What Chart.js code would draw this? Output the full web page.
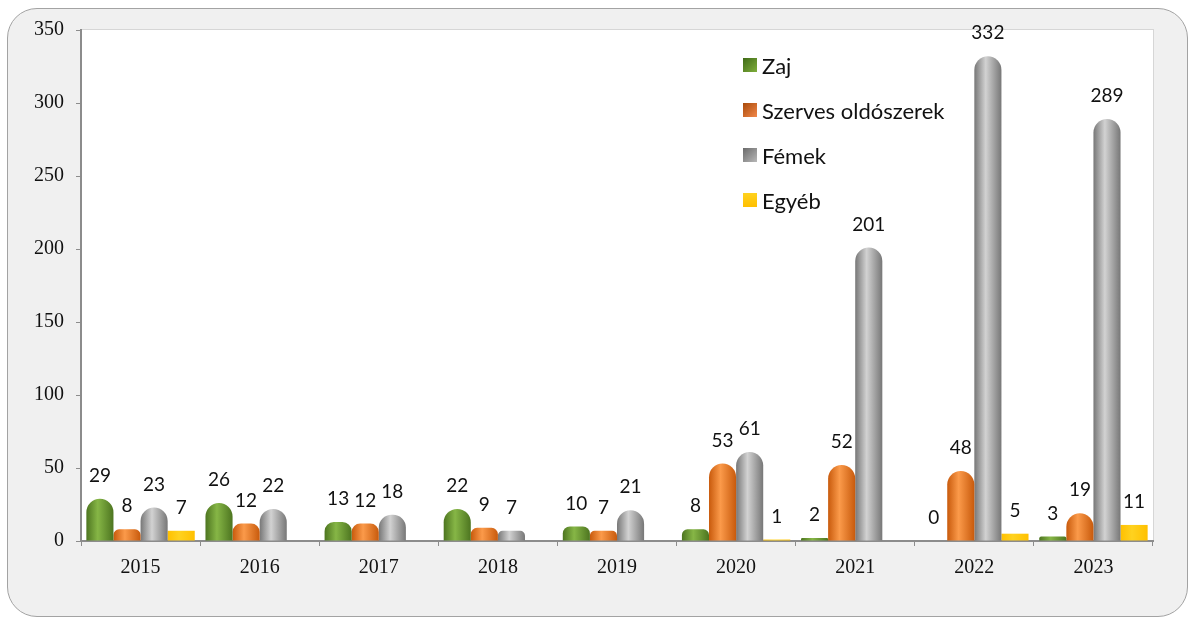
<!DOCTYPE html>
<html>
<head>
<meta charset="utf-8">
<script src="https://cdn.jsdelivr.net/npm/chart.js@4/dist/chart.umd.min.js"></script>
<style>
    body { margin: 0; background: #ffffff; }
    #panel {
        position: absolute; left: 7px; top: 8px; width: 1179px; height: 607px;
        background: #f0f0f0; border: 1px solid #a3a3a3; border-radius: 30px;
    }
    #wrap { position: absolute; left: 0; top: 0; width: 1192px; height: 618px; }
    #legend { position: absolute; left: 743px; top: 52px; font-family: Lato, "Noto Sans", sans-serif; font-size: 22px; color: #111; }
    .row { display: flex; align-items: center; height: 26px; margin-bottom: 19px; }
    .box { width: 14px; height: 14px; margin-right: 5px; }
</style>
</head>
<body>
<div id="panel"></div>
<div id="wrap">
    <canvas id="chart" width="1192" height="618"></canvas>
    <div id="legend"></div>
</div>
<script>
// values
const years = ['2015', '2016', '2017', '2018', '2019', '2020', '2021', '2022', '2023'];
const zaj = [29, 26, 13, 22, 10, 8, 2, 0, 3];
const szerves = [8, 12, 12, 9, 7, 53, 52, 48, 19];
const femek = [23, 22, 18, 7, 21, 61, 201, 332, 289];
const egyeb = [7, null, null, null, null, 1, null, 5, 11];
const seriesNames = ['Zaj', 'Szerves oldószerek', 'Fémek', 'Egyéb'];

// edge / highlight colours for the cylinder look
var edgeColors = ['#4d7520', '#c85a0c', '#777777', '#ffc000'];
var midColors = ['#86b646', '#fb9a4a', '#d2d2d2', '#ffd21f'];
var legendCss = [
    'linear-gradient(135deg, #3f6a17, #7fae3b)',
    'linear-gradient(135deg, #a84a0a, #f2884a)',
    'linear-gradient(135deg, #6a6a6a, #b8b8b8)',
    'linear-gradient(180deg, #ffd21f, #ffbf00)'
];

// white plot area with a thin border
const plotBg = {
    id: 'plotBg',
    beforeDraw(chart) {
        const { ctx, chartArea: a } = chart;
        ctx.save();
        ctx.fillStyle = '#ffffff';
        ctx.fillRect(a.left, a.top, a.right - a.left, a.bottom - a.top);
        ctx.strokeStyle = '#d6d6d6';
        ctx.lineWidth = 1;
        ctx.strokeRect(a.left + 0.5, a.top - 0.5, a.right - a.left, a.bottom - a.top);
        ctx.restore();
    }
};

// horizontal gradient on every bar so it looks like a cylinder
const cylinder = {
    id: 'cylinder',
    beforeDatasetsDraw(chart) {
        const ctx = chart.ctx;
        chart.data.datasets.forEach((ds, i) => {
            chart.getDatasetMeta(i).data.forEach(el => {
                if (el.x === undefined || isNaN(el.x)) return;
                const g = ctx.createLinearGradient(el.x - el.width / 2, 0, el.x + el.width / 2, 0);
                g.addColorStop(0, edgeColors[i]);
                g.addColorStop(0.42, midColors[i]);
                g.addColorStop(1, edgeColors[i]);
                el.options = Object.assign({}, el.options, { backgroundColor: g });
            });
        });
    }
};

// value labels over the bars
const valueLabels = {
    id: 'valueLabels',
    afterDatasetsDraw(chart) {
        const ctx = chart.ctx;
        ctx.save();
        ctx.font = '19px Lato, "Noto Sans", sans-serif';
        ctx.fillStyle = '#111111';
        ctx.textAlign = 'center';
        ctx.textBaseline = 'middle';
        chart.data.datasets.forEach((ds, i) => {
            chart.getDatasetMeta(i).data.forEach((el, j) => {
                const v = ds.data[j];
                if (v === null || v === undefined) return;
                ctx.fillText(String(v), el.x, el.y - 23);
            });
        });
        ctx.restore();
    }
};

const seriesData = [zaj, szerves, femek, egyeb];

const chart = new Chart(document.getElementById('chart'), {
    type: 'bar',
    data: {
        labels: years,
        datasets: seriesData.map((d, i) => ({
            label: seriesNames[i],
            data: d,
            backgroundColor: edgeColors[i],
            borderWidth: 0,
            borderRadius: i < 3 ? 14 : 0,
            borderSkipped: 'start',
            categoryPercentage: 0.91,
            barPercentage: 1.0
        }))
    },
    options: {
        responsive: false,
        animation: false,
        layout: { padding: { top: 30, right: 39, left: 0, bottom: 0 } },
        plugins: {
            legend: { display: false },
            tooltip: { enabled: false }
        },
        scales: {
            x: {
                afterFit: s => { s.height = 77; },
                border: { display: true, color: '#8c8c8c', width: 2 },
                grid: { display: true, drawOnChartArea: false, drawTicks: true, tickLength: 5, color: '#8c8c8c', offset: true },
                ticks: { color: '#111', padding: 10, font: { family: '"Liberation Serif", serif', size: 20 } }
            },
            y: {
                min: 0,
                max: 350,
                afterFit: s => { s.width = 81; },
                border: { display: true, color: '#8c8c8c', width: 2 },
                grid: { display: true, drawOnChartArea: false, drawTicks: true, tickLength: 5, color: '#8c8c8c' },
                ticks: { stepSize: 50, color: '#111', padding: 12, font: { family: '"Liberation Serif", serif', size: 20 } }
            }
        }
    },
    plugins: [plotBg, cylinder, valueLabels]
});

// legend built next to the chart
const legendHtml = seriesNames.map((name, index) => `
    <div class="row">
        <span class="box" style="background: ${legendCss[index]};"></span>
        <span>${name}</span>
    </div>`).join('');
document.getElementById('legend').innerHTML = legendHtml;
</script>
</body>
</html>
